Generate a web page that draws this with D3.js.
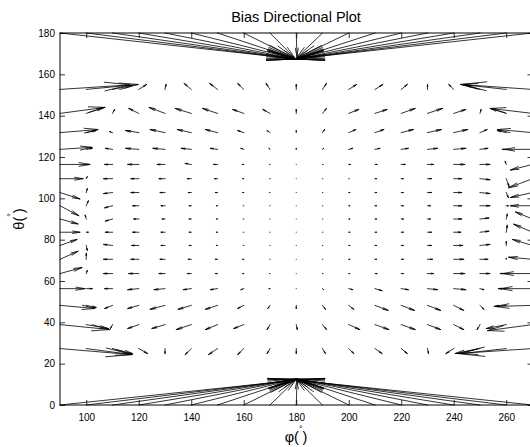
<!DOCTYPE html>
<html><head><meta charset="utf-8">
<script src="https://cdn.jsdelivr.net/npm/d3@7"></script>
<style>
body{margin:0;background:#fff}
text{font-family:"Liberation Sans",Arial,Helvetica,sans-serif;fill:#000}
</style>
</head><body>
<svg id="c" width="530" height="447"></svg>
<script>
// grid: phi columns, theta rows (bottom to top)
const phi = [90,100,110,120,130,140,150,160,170,180,190,200,210,220,230,240,250,260,270];
const theta = [0,27.3,38.9,48.2,56.3,63.6,70.5,77.2,83.6,90,96.4,102.8,109.5,116.4,123.7,131.8,141.1,152.7,180];
const xTicks = [100,120,140,160,180,200,220,240,260];
const yTicks = [0,20,40,60,80,100,120,140,160,180];
const titleText = "Bias Directional Plot";

// bias vector components (degrees), one row per theta value
const U = [
 [90,80,70,60,50,40,30,20,10,0.3,-10,-20,-30,-40,-50,-60,-70,-80,-90],
 [27.4,17.5,7.6,3.4,0,-2.3,-3.4,-2.3,-1.1,0,1.1,1.9,2.7,2.3,0.4,-3.0,-9.5,-17.1,-28.6],
 [19.0,8.4,-0.8,-4.2,-5.0,-5.7,-4.6,-3.8,-1.1,0.4,1.5,4.2,5.3,5.3,5.0,3.8,-1.1,-7.6,-17.1],
 [13.3,3.8,-3.0,-4.2,-5.7,-5.0,-4.6,-2.3,-0.8,0,1.1,1.9,5.0,5.0,5.0,3.8,1.5,-4.6,-14.1],
 [9.5,2.3,-3.0,-4.2,-4.2,-3.0,-2.7,-1.1,-0.4,0,0.4,1.5,2.7,2.7,3.8,4.6,1.5,-3.0,-12.2],
 [8.4,0.4,-3.4,-3.8,-2.3,-1.5,-0.8,-0.4,-0.2,0,0.2,0.4,0.8,0.8,2.3,4.2,3.8,-2.3,-11.4],
 [6.9,0,-3.4,-3.0,-1.9,-1.1,-0.8,-0.4,-0.1,0,0.1,0.4,0.6,0.8,1.9,3.8,3.0,0,-9.1],
 [6.5,0.4,-3.4,-2.7,-1.5,-0.8,-0.4,-0.2,-0.1,0,0.1,0.4,0.6,0.8,1.5,3.4,3.8,0,-7.6],
 [7.6,0.8,-2.7,-2.3,-1.5,-0.8,-0.4,-0.2,-0.1,0,0.1,0.4,0.6,0.8,1.5,2.7,3.4,0.4,-7.2],
 [6.9,-0.4,-2.7,-1.9,-1.1,-0.8,-0.4,-0.2,-0.1,0,0.1,0.4,0.6,0.8,1.1,3.0,3.4,0.4,-6.5],
 [7.2,0.8,-3.0,-2.3,-1.5,-0.8,-0.4,-0.2,-0.1,0,0.1,0.4,0.6,0.8,1.1,3.0,3.8,0.8,-8.4],
 [7.6,0.4,-3.4,-3.0,-1.9,-1.1,-0.8,-0.4,-0.2,0,0.1,0.4,0.6,0.8,1.5,3.0,3.8,0.8,-8.4],
 [8.8,0.4,-3.4,-3.0,-2.3,-1.5,-1.1,-0.4,-0.2,0,0.1,0.2,0.6,0.8,1.5,3.0,3.8,1.1,-9.1],
 [11.4,1.1,-3.0,-4.2,-3.0,-2.3,-1.5,-0.6,-0.2,0,0.2,0.6,0.8,1.5,2.3,4.2,3.8,-0.4,-8.4],
 [12.2,2.3,-2.7,-5.0,-4.6,-3.8,-2.7,-1.1,-0.4,0,0.4,1.5,1.9,2.7,3.8,4.6,3.0,-1.5,-10.7],
 [14.5,3.8,-1.1,-5.0,-5.7,-5.3,-4.6,-2.3,-1.1,0,0.8,2.7,3.4,4.6,5.3,5.3,2.7,-3.4,-13.3],
 [17.1,6.9,0.8,-3.8,-6.1,-6.1,-5.7,-4.2,-2.7,0,1.5,3.8,4.6,5.3,5.7,4.6,0.4,-6.1,-16.0],
 [26.7,19.8,7.6,3.0,0.4,-2.7,-3.0,-2.3,-1.5,0,1.5,3.0,3.0,2.3,0,-1.9,-5.7,-17.1,-27.4],
 [89.5,79.5,69.5,59.5,49.5,39.5,29.5,19.5,9.5,0.3,-10,-20,-30,-40,-50,-60,-70,-80,-90]
];
const V = [
 [12.0,12.2,12.4,12.5,12.6,12.6,12.6,12.5,12.4,12.2,12.4,12.5,12.6,12.6,12.6,12.5,12.4,12.2,12.0],
 [-2.9,-2.9,-2.4,-2.4,-2.4,-2.9,-2.9,-2.9,-2.4,-2.4,-2.4,-2.4,-2.4,-2.4,-2.4,-2.4,-2.4,-2.4,-2.4],
 [-2.4,-1.9,-1.9,-1.9,-1.9,-2.4,-2.4,-1.9,-2.4,-2.4,-2.4,-2.4,-2.4,-2.4,-2.4,-2.4,-2.4,-1.9,-2.9],
 [-1.5,-1.0,-1.5,-1.5,-1.9,-1.9,-1.9,-1.5,-1.5,-1.5,-1.9,-1.9,-2.4,-2.4,-2.4,-2.4,-1.9,-0.5,-0.5],
 [0,0,0,-0.5,-0.5,-0.5,-0.5,-0.5,0,0,-0.5,-0.5,-1.0,-0.5,-0.5,-0.5,-0.5,0,0],
 [2.9,1.5,0,0,0,0,0,0,0,0,0,0,0,0,0,0,0,0,0],
 [3.9,2.9,0,0,0,0,0,0,0,0,0,0,0,0,0,0,0,0.5,1.0],
 [2.9,-2.4,0.5,0,0,0,0,0,0,0,0,0,0,0,0,0,0.5,1.9,2.9],
 [0,0,0,0,0,0,0,0,0,0,0,0,0,0,0,0,0.5,3.4,3.9],
 [-2.4,1.9,-1.0,0,0,0,0,0,0,0,0,0,0,0,0,0,0.5,2.4,3.4],
 [-4.8,2.4,-1.0,0,0,0,0,0,0,0,0,0,0,0,0,0,0,0,0],
 [-3.1,1.9,-0.5,0,0,0,0,0,0,0,0,0,0,0,0,0,-0.5,-2.4,-2.4],
 [0,1.0,0,0,0,0,0,0,0,0,0,0,0,0,0,0,-0.5,-3.9,-4.4],
 [0,0,0,0,0,0.5,0,0,0,0,0,0,0,0,0,0,0,1.5,-2.7],
 [1.0,0.5,0.5,0.5,0.5,0.5,0.5,0.5,0.5,0.5,0.5,0.5,0.5,0.5,0.5,0.5,0.5,0,0],
 [1.5,1.0,0.5,1.0,1.5,1.5,1.5,1.0,1.0,1.0,1.5,1.5,1.5,1.5,1.5,1.5,1.5,1.0,1.5],
 [2.9,2.9,1.9,2.4,2.9,2.4,2.4,1.9,1.9,1.9,2.4,1.9,1.9,2.4,2.4,1.9,1.9,2.4,2.4],
 [2.2,2.4,1.9,2.4,2.4,2.9,2.9,2.9,2.9,2.4,2.9,2.4,2.4,2.4,2.4,2.4,2.4,2.4,2.4],
 [-12.5,-12.6,-12.7,-12.7,-12.6,-12.5,-12.4,-12.3,-12.2,-11.5,-12.2,-12.3,-12.4,-12.5,-12.6,-12.7,-12.7,-12.6,-12.5]
];

const svg = d3.select("#c");
const x = d3.scaleLinear().domain([90,270]).range([60,532.5]);
const y = d3.scaleLinear().domain([0,180]).range([405,33]);

// arrows
const vecs = [];
theta.forEach((t,j)=>phi.forEach((p,i)=>vecs.push({p,t,u:U[j][i],v:V[j][i]})));
function arrowPath(d){
  const x0=x(d.p), y0=y(d.t), x1=x(d.p+d.u), y1=y(d.t+d.v);
  let s = `M${x0},${y0}L${x1},${y1}`;
  const dx=x1-x0, dy=y1-y0, L=Math.hypot(dx,dy);
  if (L>0.8){
    const ux=dx/L, uy=dy/L, h=Math.min(0.36*L,28), w=0.17*h;
    const bx=x1-h*ux, by=y1-h*uy;
    s += `M${bx-w*uy},${by+w*ux}L${x1},${y1}L${bx+w*uy},${by-w*ux}`;
  }
  return s;
}
const gArrows = svg.append("g");
gArrows.selectAll("path").data(vecs).join("path")
  .attr("d",arrowPath).attr("fill","none").attr("stroke","#000")
  .attr("stroke-width",0.8).attr("stroke-linecap","square").attr("stroke-linejoin","miter");

// axes box with inward ticks
const gAx = svg.append("g").attr("font-size",12);
gAx.append("g").attr("transform","translate(0,405)")
  .call(d3.axisBottom(x).tickValues(xTicks).tickSizeInner(-5).tickSizeOuter(0).tickPadding(9).tickFormat(d3.format("d")));
gAx.append("g").attr("transform","translate(0,33)")
  .call(d3.axisTop(x).tickValues(xTicks).tickSizeInner(-5).tickSizeOuter(0).tickFormat(""));
gAx.append("g").attr("transform","translate(60,0)")
  .call(d3.axisLeft(y).tickValues(yTicks).tickSizeInner(-5).tickSizeOuter(0).tickPadding(5).tickFormat(d3.format("d")));
gAx.append("g").attr("transform","translate(532.5,0)")
  .call(d3.axisRight(y).tickValues(yTicks).tickSizeInner(-5).tickSizeOuter(0).tickFormat(""));
gAx.selectAll(".domain").remove();
gAx.selectAll("text").attr("font-family","Liberation Sans, Arial, sans-serif").attr("fill","#000");
gAx.selectAll(".tick line").attr("stroke","#000").attr("stroke-width",0.8);
svg.append("rect").attr("x",60).attr("y",33).attr("width",472.5).attr("height",372)
  .attr("fill","none").attr("stroke","#000").attr("stroke-width",1);

// title & labels
svg.append("text").attr("x",296).attr("y",21.5).attr("text-anchor","middle")
  .attr("font-size",14.5).text(titleText);
const xl = svg.append("text").attr("x",296).attr("y",442).attr("text-anchor","middle").attr("font-size",14.5);
xl.append("tspan").text("φ(");
xl.append("tspan").attr("dy",-10).attr("font-size",9).text("°");
xl.append("tspan").attr("dy",10).text(")");
const yl = svg.append("text").attr("transform","translate(24,219) rotate(-90)").attr("text-anchor","middle").attr("font-size",14.5);
yl.append("tspan").text("θ(");
yl.append("tspan").attr("dy",-10).attr("font-size",9).text("°");
yl.append("tspan").attr("dy",10).text(")");
</script>
</body></html>
